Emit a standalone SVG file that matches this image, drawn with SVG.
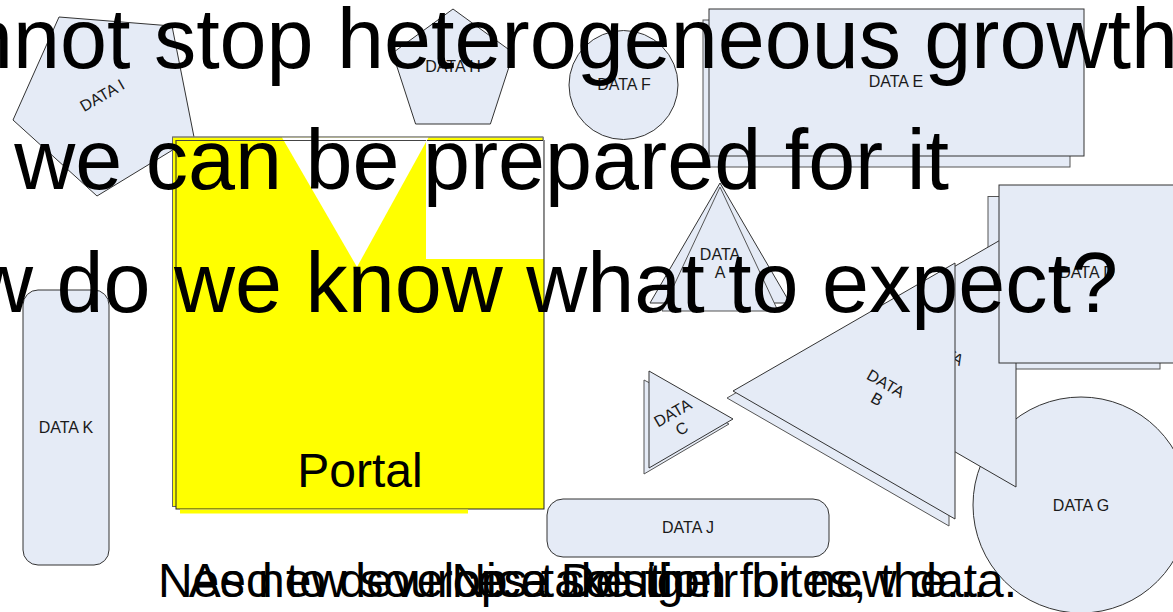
<svg xmlns="http://www.w3.org/2000/svg" width="1173" height="612" viewBox="0 0 1173 612">
<style>
.n{fill:#E5EBF6;stroke:#333;stroke-width:1}
.s{fill:#E5EBF6;stroke:#555;stroke-width:1}
.lb{font-family:"Liberation Sans",Arial,sans-serif;font-size:16px;fill:#1a1a1a;text-anchor:middle}
.big{font-family:"Liberation Sans",Arial,sans-serif;font-size:84.5px;fill:#000}
.bot{font-family:"Liberation Sans",Arial,sans-serif;font-size:48px;fill:#000;text-anchor:middle}
</style>
<rect width="1173" height="612" fill="#fff"/>
<g id="dataE">
<rect class="s" x="703" y="20" width="367" height="147"/>
<rect class="n" x="709" y="9" width="375" height="147"/>
<text class="lb" x="896" y="87">DATA E</text>
</g>
<g id="dataH">
<polygon class="n" points="453,9 513.5,53 490.4,124 415.6,124 392.5,53"/>
<text class="lb" x="453" y="72">DATA H</text>
</g>
<g id="dataF">
<circle class="n" cx="623.5" cy="85" r="54.5"/>
<text class="lb" x="624" y="90">DATA F</text>
</g>
<g id="dataI">
<polygon class="n" points="59,17 172,26 194,137 97,196 13,120"/>
<text class="lb" transform="translate(102,95) rotate(-30)" x="0" y="6">DATA I</text>
</g>
<g id="portal">
<rect x="172.5" y="137" width="370.5" height="369.5" fill="#FFFF00" stroke="#666"/>
<rect x="176" y="140.5" width="368" height="368.5" fill="#FFFF00" stroke="#222"/>
<rect x="180" y="509.5" width="288" height="4" fill="#FFFF00"/>
<polygon points="282,137.5 428.5,137.5 357,267" fill="#fff"/>
<rect x="426" y="141" width="117.5" height="118" fill="#fff"/>
<line x1="172.5" y1="137" x2="543" y2="137" stroke="#888"/>
<line x1="176" y1="140.5" x2="426" y2="140.5" stroke="#444"/>
<line x1="543.5" y1="137" x2="543.5" y2="259" stroke="#888"/>
<text x="360" y="487" font-family="Liberation Sans, Arial, sans-serif" font-size="48" text-anchor="middle" fill="#000">Portal</text>
</g>
<g id="dataA">
<polygon class="n" points="720,183 650,303 790,303"/>
<polygon class="s" points="720,187 662,311 778,311"/>
<text class="lb" x="720" y="260">DATA</text>
<text class="lb" x="720" y="278">A</text>
</g>
<g id="dataK">
<rect class="n" x="23" y="290" width="86" height="275" rx="15"/>
<text class="lb" x="66" y="433">DATA K</text>
</g>
<g id="dataDback">
<rect class="s" x="988" y="196.5" width="172" height="172.5"/>
</g>
<g id="dataG">
<circle class="n" cx="1081" cy="505" r="108"/>
<text class="lb" x="1081" y="511">DATA G</text>
</g>
<g id="dataL">
<polygon class="n" points="794,359 1016,231 1016,487"/>
<text class="lb" transform="translate(941,358) rotate(30)" x="0" y="-2">DATA</text>
</g>
<g id="dataD">
<rect class="n" x="999" y="185" width="176" height="178"/>
<text class="lb" x="1087" y="278">DATA D</text>
</g>
<g id="dataB">
<polygon class="s" points="727,398 949,270 949,526"/>
<polygon class="n" points="733,391 955,263 955,519"/>
<g transform="translate(882,390) rotate(30)">
<text class="lb" x="0" y="-2">DATA</text>
<text class="lb" x="0" y="16">B</text>
</g>
</g>
<g id="dataC">
<polygon class="s" points="644,380 644,474 729,424"/>
<polygon class="n" points="649,371 649,468 733,419"/>
<g transform="translate(676.5,419.4) rotate(-30)">
<text class="lb" x="0" y="-2">DATA</text>
<text class="lb" x="0" y="16">C</text>
</g>
</g>
<g id="dataJ">
<rect class="n" x="547" y="499" width="282" height="58" rx="16"/>
<text class="lb" x="688" y="533">DATA J</text>
</g>
<g id="connectors"></g>
<g id="title">
<text class="big" x="1178" y="68" text-anchor="end">We cannot stop heterogeneous growth</text>
<text class="big" x="949" y="189" text-anchor="end">But we can be prepared for it</text>
<text class="big" x="1118" y="312" text-anchor="end">But how do we know what to expect?</text>
</g>
<g id="bottom">
<text class="bot" x="587.5" y="597">Need to develop a solution for new data.</text>
<text class="bot" x="587.5" y="597">As new sources take their bites, the...</text>
<text class="bot" x="587.5" y="597">Nice Design!</text>
</g>
</svg>
